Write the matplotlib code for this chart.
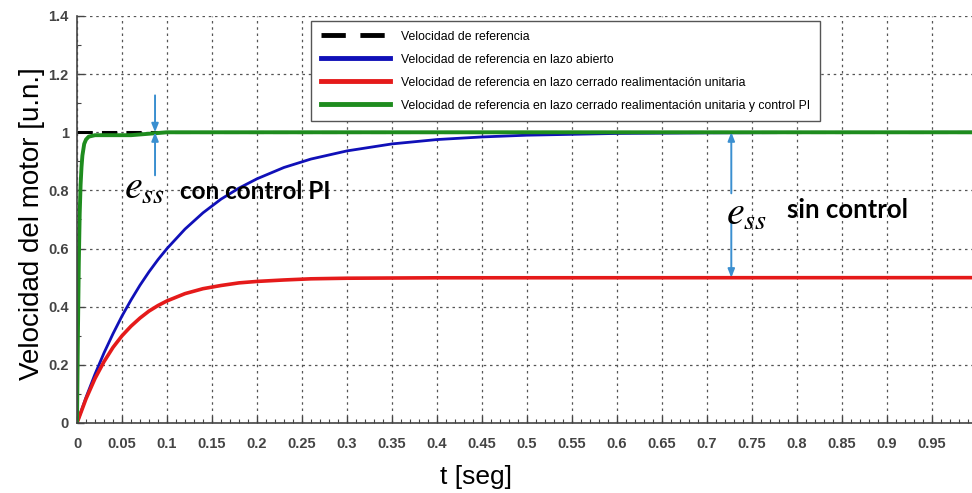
import matplotlib
matplotlib.use("Agg")
import matplotlib.pyplot as plt
from matplotlib import font_manager
from matplotlib.ticker import MultipleLocator, FuncFormatter

# --- data ---
t_blue = [0, 0.01, 0.02, 0.03, 0.04, 0.05, 0.06, 0.07, 0.08, 0.09, 0.10, 0.12, 0.14,
          0.16, 0.18, 0.20, 0.23, 0.26, 0.30, 0.35, 0.40, 0.45, 0.50, 0.60, 0.70, 0.80, 1.0]
v_blue = [0, 0.088, 0.168, 0.241, 0.307, 0.368, 0.423, 0.474, 0.520, 0.562, 0.600, 0.667, 0.723,
          0.770, 0.808, 0.840, 0.879, 0.908, 0.936, 0.960, 0.975, 0.984, 0.990, 0.996, 0.998, 0.999, 1.0]

t_red = [0, 0.01, 0.02, 0.03, 0.04, 0.05, 0.06, 0.07, 0.08, 0.09, 0.10, 0.12, 0.14,
         0.16, 0.18, 0.20, 0.23, 0.26, 0.30, 0.40, 1.0]
v_red = [0, 0.083, 0.153, 0.211, 0.260, 0.300, 0.333, 0.361, 0.385, 0.404, 0.420, 0.445, 0.462,
         0.473, 0.482, 0.487, 0.492, 0.496, 0.498, 0.4995, 0.5]

t_green = [0, 0.001, 0.002, 0.003, 0.004, 0.005, 0.006, 0.008, 0.010, 0.013, 0.02, 0.06, 0.08, 0.10, 1.0]
v_green = [0, 0.30, 0.55, 0.72, 0.82, 0.88, 0.92, 0.96, 0.975, 0.985, 0.99, 0.99, 0.995, 1.0, 1.0]

t_ref = [0, 1.0]
v_ref = [1.0, 1.0]

labels = ["Velocidad de referencia",
          "Velocidad de referencia en lazo abierto",
          "Velocidad de referencia en lazo cerrado realimentación unitaria",
          "Velocidad de referencia en lazo cerrado realimentación unitaria y control PI"]

names = {f.name for f in font_manager.fontManager.ttflist}
narrow = "Liberation Sans Narrow" if "Liberation Sans Narrow" in names else "Liberation Sans"
plt.rcParams['font.family'] = ['Liberation Sans', 'DejaVu Sans']
plt.rcParams['mathtext.fontset'] = 'stix'

fig = plt.figure(figsize=(9.72, 4.93), dpi=100)
ax = fig.add_axes([77 / 972, 70 / 493, 900 / 972, 407 / 493])

ax.plot(t_ref, v_ref, color='black', lw=2.2, ls=(0, (5, 3)), label=labels[0])
ax.plot(t_blue, v_blue, color='#1010b8', lw=2.0, label=labels[1])
ax.plot(t_red, v_red, color='#e51a1a', lw=2.6, label=labels[2])
ax.plot(t_green, v_green, color='#1e8c1e', lw=2.8, label=labels[3])

ax.set_xlim(0, 1)
ax.set_ylim(0, 1.4)
ax.xaxis.set_major_locator(MultipleLocator(0.05))
ax.xaxis.set_minor_locator(MultipleLocator(0.01))
ax.yaxis.set_major_locator(MultipleLocator(0.2))
ax.yaxis.set_minor_locator(MultipleLocator(0.1))
# last x label (1) falls outside the picture in the reference
ax.xaxis.set_major_formatter(FuncFormatter(lambda v, p: '' if v > 0.99 else f'{v:g}'))
ax.yaxis.set_major_formatter(FuncFormatter(lambda v, p: f'{v:g}'))
ax.tick_params(which='both', direction='in', colors='#444444', labelsize=10.5)
ax.tick_params(which='major', length=5, width=1)
ax.tick_params(which='minor', length=3, width=0.8)
ax.tick_params(axis='x', which='major', pad=10)
ax.tick_params(axis='y', which='major', pad=6)
for lab in ax.get_xticklabels() + ax.get_yticklabels():
    lab.set_fontweight('bold')
    lab.set_color('#444444')
ax.grid(True, which='major', color='#555555', ls=(0, (2, 3)), lw=0.9)
ax.spines['top'].set_visible(False)
ax.spines['right'].set_visible(False)
for s in ('left', 'bottom'):
    ax.spines[s].set_color('#444444')
    ax.spines[s].set_linewidth(1.2)

ax.set_xlabel("t [seg]", fontsize=19, family=narrow)
ax.set_ylabel("Velocidad del motor [u.n.]", fontsize=20, family=narrow)
ax.xaxis.set_label_coords(0.443, -0.103)
ax.yaxis.set_label_coords(-0.036, 0.49)

leg = ax.legend(loc='upper left', bbox_to_anchor=(0.26, 0.988), borderaxespad=0,
                fancybox=False, edgecolor='#555555', handlelength=5.7,
                prop={'family': narrow, 'size': 8.8}, labelspacing=0.9,
                borderpad=0.8, handletextpad=0.9, framealpha=1)
leg.get_frame().set_linewidth(1.0)
for ln in leg.get_lines():
    ln.set_linewidth(3.5)

# annotations
arrow_c = '#3a8fd0'
ap = dict(arrowstyle='-|>,head_length=0.5,head_width=0.2', color=arrow_c, lw=1.4,
          shrinkA=0, shrinkB=0)
ax.annotate('', xy=(0.0867, 1.0), xytext=(0.0867, 1.127), arrowprops=ap)
ax.annotate('', xy=(0.0867, 1.0), xytext=(0.0867, 0.852), arrowprops=ap)
ax.annotate('', xy=(0.727, 1.0), xytext=(0.727, 0.79), arrowprops=ap)
ax.annotate('', xy=(0.727, 0.5), xytext=(0.727, 0.69), arrowprops=ap)

ax.text(0.0756, 0.81, r'$e_{ss}$', fontsize=29, ha='center', va='center')
ax.text(0.114, 0.797, 'con control PI', fontsize=17.5, fontweight='bold',
        family=['Lato', 'DejaVu Sans'], ha='left', va='center')
ax.text(0.744, 0.72, r'$e_{ss}$', fontsize=29, ha='center', va='center')
ax.text(0.789, 0.732, 'sin control', fontsize=18.5, fontweight='bold',
        family=['Lato', 'DejaVu Sans'], ha='left', va='center')

fig.savefig("out.png", dpi=100)
